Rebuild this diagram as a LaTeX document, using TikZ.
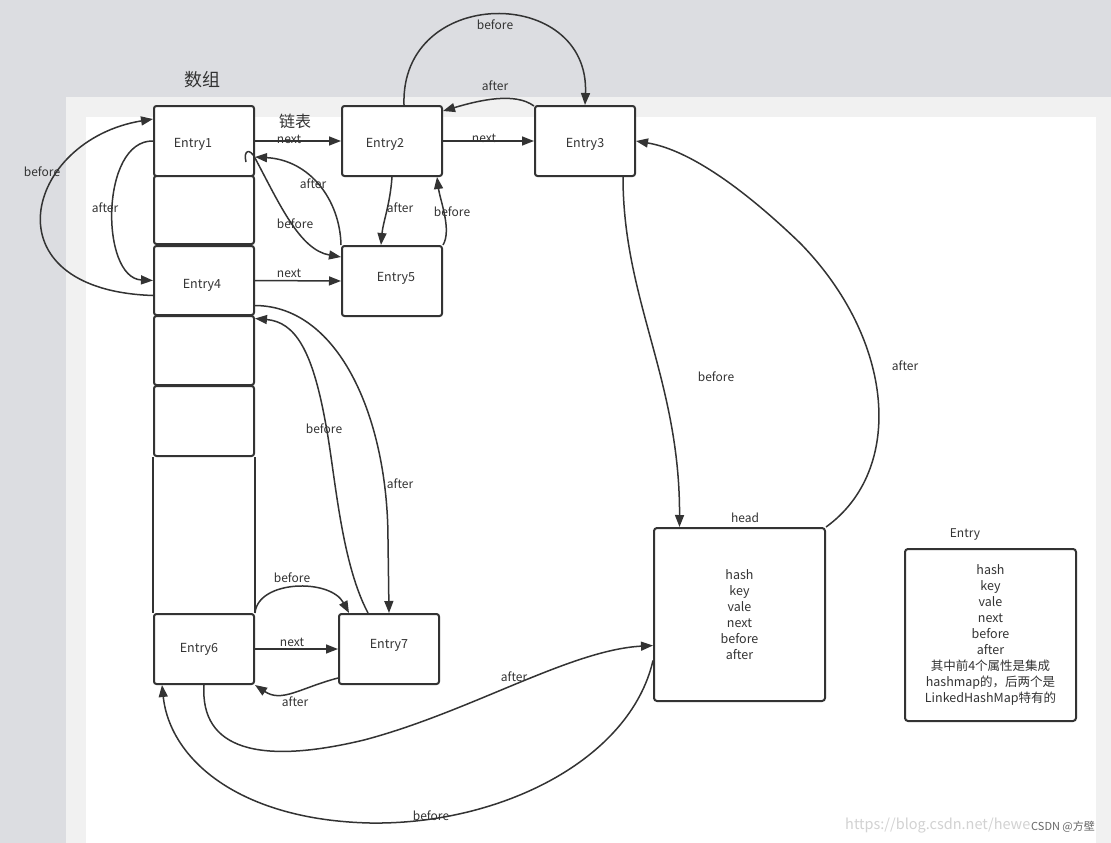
\documentclass[tikz,border=0pt]{standalone}
\usepackage{fontspec}
\setmainfont{Noto Sans CJK SC}
\usetikzlibrary{arrows.meta}
\definecolor{ink}{HTML}{333333}
\definecolor{bggray}{HTML}{DCDDE1}
\definecolor{panel}{HTML}{F1F1F1}
\definecolor{wm}{HTML}{D2D2D2}
\definecolor{csdn}{HTML}{666666}
\begin{document}
\begin{tikzpicture}[x=1pt,y=-1pt,
  box/.style={draw=ink,line width=2pt,rounded corners=2.5pt,minimum width=100pt,minimum height=70pt,inner sep=0pt,fill=white},
  bigbox/.style={draw=ink,line width=2pt,rounded corners=3pt,minimum width=171pt,minimum height=173pt,inner sep=0pt,align=center,text=ink,font=\fontsize{12.5}{16}\selectfont},
  txt/.style={text=ink,inner sep=0pt,font=\fontsize{12.5}{15}\selectfont},
  lab/.style={text=ink,inner sep=0pt,font=\fontsize{12}{14}\selectfont},
  arr/.style={draw=ink,line width=1.5pt,-{Triangle[length=12pt,width=9pt]}}]
\useasboundingbox (0,0) rectangle (1111,843);
% background
\fill[bggray] (0,0) rectangle (1111,843);
\fill[panel] (66,97) rectangle (1111,843);
\fill[white] (86,117) rectangle (1096,843);

% array column
\node[box] (e1) at (204,141) {};
\node[box,minimum height=68pt] (c2) at (204,210) {};
\node[box,minimum height=69pt] (e4) at (204,280.5) {};
\node[box,minimum height=69pt] (c5) at (204,350.5) {};
\node[box,minimum height=70pt] (c6) at (204,421) {};
\node[box] (e6) at (204,649) {};
\draw[ink,line width=2pt] (c6.south west) -- (e6.north west);
\draw[ink,line width=2pt] (c6.south east) -- (e6.north east);

% chain nodes
\node[box] (e2) at (392,141) {};
\node[box] (e3) at (585,141) {};
\node[box] (e5) at (392,281) {};
\node[box] (e7) at (389,649) {};

\node[txt] (t1) at (193,144) {Entry1};
\node[txt] (t2) at (385,144) {Entry2};
\node[txt] (t3) at (585,144) {Entry3};
\node[txt] (t4) at (202,285) {Entry4};
\node[txt] (t5) at (396,278) {Entry5};
\node[txt] (t6) at (199,649) {Entry6};
\node[txt] (t7) at (389,645) {Entry7};

% head and Entry description
\node[bigbox] (head) at (739.5,614.5) {hash\\key\\vale\\next\\before\\after};
\node[bigbox,minimum height=172pt] (entry) at (990.5,635) {hash\\key\\vale\\next\\before\\after\\其中前4个属性是集成\\hashmap的，后两个是\\LinkedHashMap特有的};
\node[lab] (headlab) at (745,518) {head};
\node[lab] (entrylab) at (965,535) {Entry};

% titles
\node[text=ink,inner sep=0pt,font=\fontsize{18}{20}\selectfont] (arrt) at (202,80) {数组};
\node[text=ink,inner sep=0pt,font=\fontsize{16}{18}\selectfont] (listt) at (295,121) {链表};

% next arrows
\draw[arr] (e1.east) -- (e2.west);
\draw[arr] (e2.east) -- (e3.west);
\draw[arr] (e4.east) -- (e5.west);
\draw[arr] (e6.east) -- (e7.west);
\node[lab] (n1) at (289,139) {next};
\node[lab] (n2) at (484,138) {next};
\node[lab] (n3) at (289,273) {next};
\node[lab] (n4) at (292,642) {next};

% Entry2 <-> Entry3
\draw[arr] ([xshift=12pt]e2.north) .. controls (400,-15) and (590,-15) .. (e3.north);
\node[lab] (l1) at (495,25) {before};
\draw[arr] ([yshift=-1pt]e3.north west) .. controls (515,92) and (480,100) .. ([yshift=-6pt]e2.north east);
\node[lab] (l2) at (495,86) {after};

% Entry2 <-> Entry5
\draw[arr] (e2.south) .. controls (390,205) and (383,222) .. ([xshift=-11pt]e5.north);
\node[lab] (l3) at (400,208) {after};
\draw[arr] (e5.north east) .. controls (452,230) and (440,200) .. ([xshift=-6pt]e2.south east);
\node[lab] (l4) at (452,212) {before};

% Entry1 <-> Entry5
\draw[arr] ([xshift=-9pt,yshift=-21pt]e1.east) .. controls (243,150) and (250,148) .. (255,158) .. controls (280,205) and (300,250) .. ([yshift=24pt]e5.west);
\node[lab] (l5) at (295,224) {before};
\draw[arr] (e5.north west) .. controls (340,200) and (310,160) .. ([yshift=-16pt]e1.east);
\node[lab] (l6) at (313,184) {after};

% Entry1 <-> Entry4
\draw[arr] (e1.west) .. controls (100,140) and (100,278) .. (e4.west);
\node[lab] (l7) at (105,208) {after};
\draw[arr] ([yshift=-15pt]e4.west) .. controls (-15,290) and (25,140) .. ([yshift=22pt]e1.west);
\node[lab] (l8) at (42,172) {before};

% Entry4 <-> Entry7
\draw[arr] ([yshift=-25pt]e4.east) .. controls (340,306) and (388,420) .. (388,540) -- (e7.north);
\node[lab] (l9) at (400,484) {after};
\draw[arr] ([xshift=-21pt]e7.north) .. controls (340,560) and (335,470) .. (325,420) .. controls (312,350) and (295,322) .. ([yshift=-38pt]e4.east);
\node[lab] (l10) at (324,429) {before};

% Entry6 <-> Entry7
\draw[arr] (e6.north east) .. controls (258,580) and (330,578) .. ([xshift=-40pt]e7.north);
\node[lab] (l11) at (292,578) {before};
\draw[arr] ([yshift=-29pt]e7.west) .. controls (300,688) and (282,703) .. (e6.south east);
\node[lab] (l12) at (295,702) {after};

% Entry3 <-> head
\draw[arr] ([xshift=38pt]e3.south) .. controls (623,300) and (680,380) .. ([xshift=-60pt]head.north);
\node[lab] (l13) at (716,377) {before};
\draw[arr] (head.north east) .. controls (905,470) and (895,340) .. (800,243) .. controls (745,190) and (690,150) .. (e3.east);
\node[lab] (l14) at (905,366) {after};

% Entry6 <-> head
\draw[arr] (e6.south) .. controls (200,750) and (260,765) .. (364,740) .. controls (470,712) and (570,650) .. ([yshift=-31pt]head.west);
\node[lab] (l15) at (514,677) {after};
\draw[arr] ([yshift=-46pt]head.west) .. controls (630,760) and (500,825) .. (370,823) .. controls (240,820) and (170,760) .. ([xshift=9pt]e6.south west);
\node[lab] (l16) at (431,816) {before};

% watermark
\node[anchor=west,text=wm,inner sep=0pt,font=\fontsize{14.5}{17}\selectfont] (wmk) at (845,826) {https://blog.csdn.net/hewe};
\node[anchor=west,text=csdn,inner sep=0pt,font=\fontsize{11}{13}\selectfont] (csdn) at (1031,827) {CSDN @方壁};
\end{tikzpicture}
\end{document}
